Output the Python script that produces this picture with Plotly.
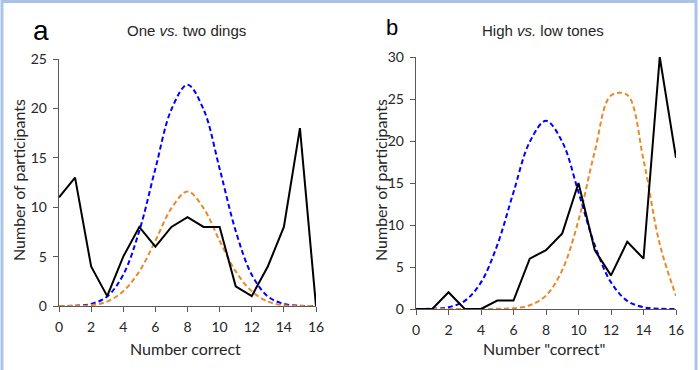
import plotly.graph_objects as go

# ---------------- data ----------------
x_vals = list(range(0, 17))

# Panel a: One vs. two dings
a_observed = [11, 13, 4, 1, 5, 8, 6, 8, 9, 8, 8, 2, 1, 4, 8, 18, 0]
a_chance = [0, 0.03, 0.21, 0.97, 3.17, 7.6, 13.9, 19.9, 22.4, 19.9, 13.9, 7.6, 3.17, 0.97, 0.21, 0.03, 0]
a_model = [0, 0.01, 0.08, 0.45, 1.5, 3.5, 6.6, 9.9, 11.6, 9.9, 6.6, 3.5, 1.5, 0.45, 0.08, 0.01, 0]

# Panel b: High vs. low tones
b_observed = [0, 0, 2, 0, 0, 1, 1, 6, 7, 9, 15, 7, 4, 8, 6, 30, 18]
b_chance = [0, 0.03, 0.21, 0.97, 3.17, 7.6, 13.9, 19.9, 22.4, 19.9, 13.9, 7.6, 3.17, 0.97, 0.21, 0.03, 0]
b_model = [0, 0, 0, 0, 0, 0.02, 0.09, 0.44, 1.6, 4.63, 10.56, 18.74, 25.42, 25.47, 17.76, 7.71, 1.57]

x_ticks = [0, 2, 4, 6, 8, 10, 12, 14, 16]
a_y_ticks = [0, 5, 10, 15, 20, 25]
b_y_ticks = [0, 5, 10, 15, 20, 25, 30]

titles = ["One <i>vs.</i> two dings", "High <i>vs.</i> low tones"]
x_titles = ["Number correct", "Number \"correct\""]
y_title = "Number of participants"
panel_letters = ["a", "b"]

BLUE = "#0000FF"
ORANGE = "#E8892A"
W, H = 700, 370

fig = go.Figure()

for i, (obs, chance, model) in enumerate([(a_observed, a_chance, a_model),
                                          (b_observed, b_chance, b_model)]):
    xa = "x" if i == 0 else "x2"
    ya = "y" if i == 0 else "y2"
    fig.add_trace(go.Scatter(x=x_vals, y=chance, mode="lines", xaxis=xa, yaxis=ya,
                             line=dict(color=BLUE, width=2, dash="5px,3px", shape="spline", smoothing=1),
                             showlegend=False, hoverinfo="skip", cliponaxis=False))
    fig.add_trace(go.Scatter(x=x_vals, y=model, mode="lines", xaxis=xa, yaxis=ya,
                             line=dict(color=ORANGE, width=2, dash="5px,3px", shape="spline", smoothing=1),
                             showlegend=False, hoverinfo="skip", cliponaxis=False))
    fig.add_trace(go.Scatter(x=x_vals, y=obs, mode="lines", xaxis=xa, yaxis=ya,
                             line=dict(color="black", width=2),
                             showlegend=False, hoverinfo="skip", cliponaxis=False))

tick_font = dict(family="Lato", size=14, color="#262626")
axis_common = dict(showgrid=False, zeroline=False, showline=True, linecolor="#595959",
                   linewidth=1.3, ticks="outside", ticklen=5, tickcolor="#595959",
                   tickfont=tick_font, automargin=False, fixedrange=True)

def xd(p0, p1):
    return [p0 / W, p1 / W]

def yd(ptop, pbot):
    return [1 - pbot / H, 1 - ptop / H]

fig.update_layout(
    width=W, height=H, margin=dict(l=0, r=0, t=0, b=0, autoexpand=False),
    paper_bgcolor="white", plot_bgcolor="white",
    xaxis=dict(domain=xd(59, 316), range=[0, 16], tickvals=x_ticks, anchor="y", ticklabelstandoff=3, **axis_common),
    yaxis=dict(domain=yd(59, 306), range=[0, 25], tickvals=a_y_ticks, anchor="x", ticklabelstandoff=3, **axis_common),
    xaxis2=dict(domain=xd(416, 676), range=[0, 16], tickvals=x_ticks, anchor="y2", ticklabelstandoff=3, **axis_common),
    yaxis2=dict(domain=yd(57, 309), range=[0, 30], tickvals=b_y_ticks, anchor="x2", ticklabelstandoff=3, **axis_common),
)

ann = []
label_font = dict(family="Lato", size=16, color="#262626")
title_font = dict(family="Liberation Sans", size=15, color="#262626")
for cx, txt in zip([186, 543], titles):
    ann.append(dict(x=cx / W, y=1 - 30 / H, xref="paper", yref="paper", text=txt,
                    showarrow=False, font=title_font, xanchor="center", yanchor="middle"))
ann.append(dict(x=41 / W, y=1 - 30 / H, xref="paper", yref="paper", text=panel_letters[0],
                showarrow=False, font=dict(family="Liberation Sans", size=28, color="black"),
                xanchor="center", yanchor="middle"))
ann.append(dict(x=392 / W, y=1 - 27 / H, xref="paper", yref="paper", text=panel_letters[1],
                showarrow=False, font=dict(family="Liberation Sans", size=22, color="black"),
                xanchor="center", yanchor="middle"))
for cx, txt in zip([185, 544], x_titles):
    ann.append(dict(x=cx / W, y=1 - 348 / H, xref="paper", yref="paper", text=txt,
                    showarrow=False, font=label_font, xanchor="center", yanchor="middle"))
for cx, cy in [(18, 180), (380, 180)]:
    ann.append(dict(x=cx / W, y=1 - cy / H, xref="paper", yref="paper", text=y_title,
                    showarrow=False, font=label_font, textangle=-90,
                    xanchor="center", yanchor="middle"))
fig.update_layout(annotations=ann)

# light blue frame around the figure (bottom edge lies outside the view)
frame_col = "#A9C4E6"
fig.add_shape(type="rect", xref="paper", yref="paper",
              x0=2 / W, x1=696 / W, y0=-0.05, y1=1 - 1.5 / H,
              line=dict(color=frame_col, width=3), fillcolor="rgba(0,0,0,0)", layer="above")

fig.write_html("out.html", config={"displayModeBar": False, "staticPlot": True},
               post_script="document.body.style.margin='0px';")
